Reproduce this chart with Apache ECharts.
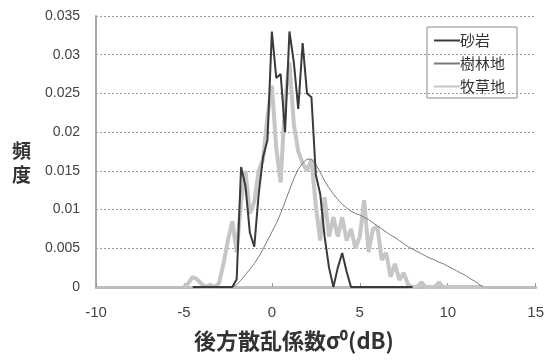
<!DOCTYPE html>
<html>
<head>
<meta charset="utf-8">
<script src="https://cdn.jsdelivr.net/npm/echarts@6/dist/echarts.min.js"></script>
<style>
  html, body { margin: 0; padding: 0; background: #fff; }
  #chart { width: 547px; height: 363px; }
</style>
</head>
<body>
<div id="chart"></div>
<script>
// backscatter coefficient (dB), 0.25 dB bins
const sigma = [
  -5, -4.75, -4.5, -4.25,
  -4, -3.75, -3.5, -3.25,
  -3, -2.75, -2.5, -2.25,
  -2, -1.75, -1.5, -1.25,
  -1, -0.75, -0.5, -0.25,
  0, 0.25, 0.5, 0.75,
  1, 1.25, 1.5, 1.75,
  2, 2.25, 2.5, 2.75,
  3, 3.25, 3.5, 3.75,
  4, 4.25, 4.5, 4.75,
  5, 5.25, 5.5, 5.75,
  6, 6.25, 6.5, 6.75,
  7, 7.25, 7.5, 7.75,
  8, 8.25, 8.5, 8.75,
  9, 9.25, 9.5, 9.75,
  10, 10.25, 10.5, 10.75,
  11, 11.25, 11.5, 11.75,
  12,
];

// 砂岩
const sandstone = [
  null, null, 0, 0,
  0, 0, 0, 0,
  0, 0, 0, 0,
  0.001, 0.0155, 0.013, 0.007,
  0.0052, 0.012, 0.0168, 0.019,
  0.033, 0.027, 0.0275, 0.02,
  0.033, 0.029, 0.023, 0.0315,
  0.025, 0.0245, 0.0145, 0.012,
  0.0065, 0.0025, 0, 0.0025,
  0.0044, 0.002, 0, 0,
  0, 0, 0, 0,
  0, 0, 0, 0,
  0, 0, 0, 0,
  0, null, null, null,
  null, null, null, null,
  null, null, null, null,
  null, null, null, null,
  null,
];

// 樹林地
const forest = [
  null, null, null, null,
  null, null, null, null,
  null, null, null, 0,
  0.0003, 0.0009, 0.0016, 0.0023,
  0.003, 0.0039, 0.0049, 0.006,
  0.0071, 0.0082, 0.0095, 0.011,
  0.0125, 0.014, 0.0152, 0.016,
  0.0165, 0.0165, 0.0158, 0.0148,
  0.0137, 0.0128, 0.012, 0.0113,
  0.0107, 0.0102, 0.0098, 0.0095,
  0.0093, 0.009, 0.0087, 0.0083,
  0.0079, 0.0075, 0.0071, 0.0067,
  0.0064, 0.006, 0.0056, 0.0052,
  0.0049, 0.0046, 0.0043, 0.004,
  0.0037, 0.0035, 0.0032, 0.003,
  0.0027, 0.0024, 0.0021, 0.0018,
  0.0015, 0.0011, 0.0008, 0.0004,
  0,
];

// 牧草地
const pasture = [
  0, 0.0005, 0.0013, 0.001,
  0.0004, 0, 0.0003, 0,
  0.0005, 0.003, 0.006, 0.0085,
  0.0045, 0.011, 0.015, 0.0095,
  0.011, 0.015, 0.0165, 0.022,
  0.026, 0.018, 0.0135, 0.024,
  0.029, 0.021, 0.0175, 0.016,
  0.015, 0.0165, 0.0105, 0.006,
  0.0116, 0.0065, 0.009, 0.0065,
  0.009, 0.006, 0.0075, 0.005,
  0.0065, 0.0112, 0.0045, 0.0075,
  0.0078, 0.0035, 0.0044, 0.0013,
  0.003, 0.0009, 0.0018, 0.0003,
  0, 0, 0.0006, 0,
  0, 0, 0.0006, 0,
  0, 0, 0, 0,
  0, 0, 0, 0,
  0,
];

const pairs = (ys) => sigma.map((x, i) => [x, ys[i]]);

const font = '"Liberation Sans", "Noto Sans CJK JP", sans-serif';
const cjk = '"Noto Sans CJK JP", sans-serif';

const chart = echarts.init(document.getElementById('chart'), null, { renderer: 'canvas' });

chart.setOption({
  animation: false,
  backgroundColor: '#fff',
  grid: { left: 96, right: 8, top: 16, bottom: 76, containLabel: false },
  legend: {
    orient: 'vertical',
    left: 427,
    top: 27,
    width: 98,
    padding: [6, 12, 4, 6],
    itemGap: 8,
    itemWidth: 26,
    itemHeight: 14,
    borderColor: '#8a8a8a',
    borderWidth: 1,
    itemStyle: { opacity: 0 },
    textStyle: { fontFamily: cjk, fontSize: 15, color: '#333', padding: [0, 0, 0, -5] },
    data: ['砂岩', '樹林地', '牧草地'],
  },
  xAxis: {
    type: 'value',
    min: -10,
    max: 15,
    interval: 5,
    axisLine: { lineStyle: { color: '#bdbdbd', width: 3 } },
    axisTick: { inside: true, length: 4, lineStyle: { color: '#999' } },
    axisLabel: { fontFamily: font, fontSize: 15, color: '#444', margin: 18 },
    splitLine: { show: false },
  },
  yAxis: {
    type: 'value',
    min: 0,
    max: 0.035,
    interval: 0.005,
    axisLine: { show: true, onZero: false, lineStyle: { color: '#a8a8a8', width: 2 } },
    axisTick: { show: false },
    axisLabel: { fontFamily: font, fontSize: 14, color: '#444', margin: 16 },
    splitLine: { lineStyle: { color: '#9a9a9a', type: [2, 2], width: 1 } },
  },
  graphic: [
    {
      type: 'text',
      left: 12,
      top: 139,
      style: { text: '頻\n度', font: 'bold 19px ' + cjk, fill: '#333', lineHeight: 24 },
    },
    {
      type: 'text',
      left: 194,
      top: 330,
      style: { text: '後方散乱係数σ⁰(dB)', font: 'bold 22px ' + cjk, fill: '#333' },
    },
  ],
  series: [
    {
      name: '牧草地',
      type: 'line',
      data: pairs(pasture),
      symbol: 'none',
      z: 2,
      lineStyle: { color: '#c6c6c6', width: 4 },
      itemStyle: { color: '#c6c6c6' },
    },
    {
      name: '樹林地',
      type: 'line',
      data: pairs(forest),
      symbol: 'none',
      z: 3,
      lineStyle: { color: '#7a7a7a', width: 1 },
      itemStyle: { color: '#7a7a7a' },
    },
    {
      name: '砂岩',
      type: 'line',
      data: pairs(sandstone),
      symbol: 'none',
      z: 4,
      lineStyle: { color: '#3a3a3a', width: 2 },
      itemStyle: { color: '#3a3a3a' },
    },
  ],
});
</script>
</body>
</html>
